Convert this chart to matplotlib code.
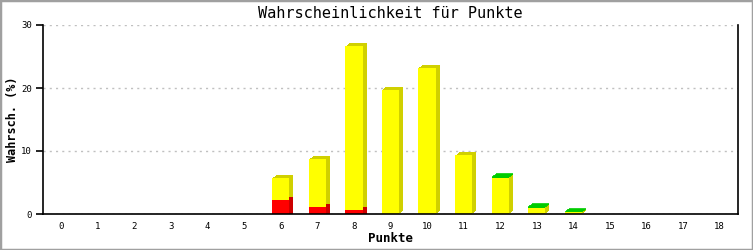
import matplotlib
matplotlib.use("Agg")
import matplotlib.pyplot as plt
import matplotlib.transforms as mtransforms
from matplotlib.patches import Rectangle

# data
punkte = list(range(19))
rot = [0, 0, 0, 0, 0, 0, 2.25, 1.1, 0.65, 0, 0, 0, 0, 0, 0, 0, 0, 0, 0]
gelb = [0, 0, 0, 0, 0, 0, 3.45, 7.6, 25.95, 19.75, 23.15, 9.3, 5.75, 1.0, 0.25, 0, 0, 0, 0]
gruen = [0, 0, 0, 0, 0, 0, 0, 0, 0, 0, 0, 0, 0.1, 0.1, 0.1, 0, 0, 0, 0]

FONT = "DejaVu Sans Mono"
W = 0.47

fig = plt.figure(figsize=(7.53, 2.5), dpi=100)
ax = fig.add_axes([43 / 753, 1 - 214 / 250, 695 / 753, 189 / 250])

front = [("#ff0000", "#cc0000"), ("#ffff00", "#d0d000"), ("#00cc00", "#00cc00")]
series = [rot, gelb, gruen]


def shifted(dx, dy):
    return ax.transData + mtransforms.ScaledTranslation(dx / 100, dy / 100, fig.dpi_scale_trans)


# depth (side faces), drawn as shifted copies
for k in range(1, 5):
    tr = shifted(k, 0.75 * k)
    bottom = [0.0] * 19
    for i, (vals, (fc, sc)) in enumerate(zip(series, front)):
        b = [bb if bb > 0 or i > 0 else -2 for bb in bottom]
        h = [v + (bb - b2) for v, bb, b2 in zip(vals, bottom, b)]
        h = [hh if v > 0 else 0 for hh, v in zip(h, vals)]
        ax.bar(punkte, h, width=W, bottom=b, color=sc, linewidth=0,
               transform=tr, zorder=2)
        bottom = [bb + v for bb, v in zip(bottom, vals)]

# top faces for green-capped bars
total = [r + g + gr for r, g, gr in zip(rot, gelb, gruen)]
for k in range(0, 5):
    tr = shifted(k, 0.75 * k)
    xs = [p for p, g in zip(punkte, gruen) if g > 0]
    ys = [t for t, g in zip(total, gruen) if g > 0]
    ax.hlines(ys, [x - W / 2 for x in xs], [x + W / 2 for x in xs],
              colors="#00cc00", linewidth=1.2, transform=tr, zorder=2.5)

# front faces
bottom = [0.0] * 19
for vals, (fc, sc) in zip(series, front):
    ax.bar(punkte, vals, width=W, bottom=bottom, color=fc, linewidth=0, zorder=3)
    bottom = [bb + v for bb, v in zip(bottom, vals)]

ax.set_xlim(-0.5, 18.5)
ax.set_ylim(0, 30)
ax.set_yticks([0, 10, 20, 30])
ax.set_xticks(punkte)
ax.grid(axis="y", color="#c0c0c0", linestyle=(0, (1.5, 3)), linewidth=1, zorder=1)
ax.set_axisbelow(True)
ax.spines["top"].set_visible(False)
for s in ("left", "bottom", "right"):
    ax.spines[s].set_linewidth(1.2)
    ax.spines[s].set_zorder(4)
ax.tick_params(axis="x", length=0, pad=6, labelsize=6.5)
ax.tick_params(axis="y", length=5, width=1.2, pad=3, labelsize=6.5)
for lab in ax.get_xticklabels() + ax.get_yticklabels():
    lab.set_family(FONT)

fig.text(0.5 * (43 + 738) / 753, 1 - 239 / 250, "Punkte", ha="center", va="center",
         fontfamily=FONT, fontweight="bold", fontsize=9)
fig.text(13 / 753, 1 - 119 / 250, "Wahrsch. (%)", ha="center", va="center", rotation=90,
         fontfamily=FONT, fontweight="bold", fontsize=8.5)
fig.text(0.5 * (43 + 738) / 753, 1 - 13 / 250, "Wahrscheinlichkeit für Punkte",
         ha="center", va="center", fontfamily=FONT, fontsize=11)

fig.patches.append(Rectangle((0, 0), 1, 1, transform=fig.transFigure, fill=False,
                             edgecolor="#a0a0a0", linewidth=2.5))

fig.savefig("out.png", dpi=100)
